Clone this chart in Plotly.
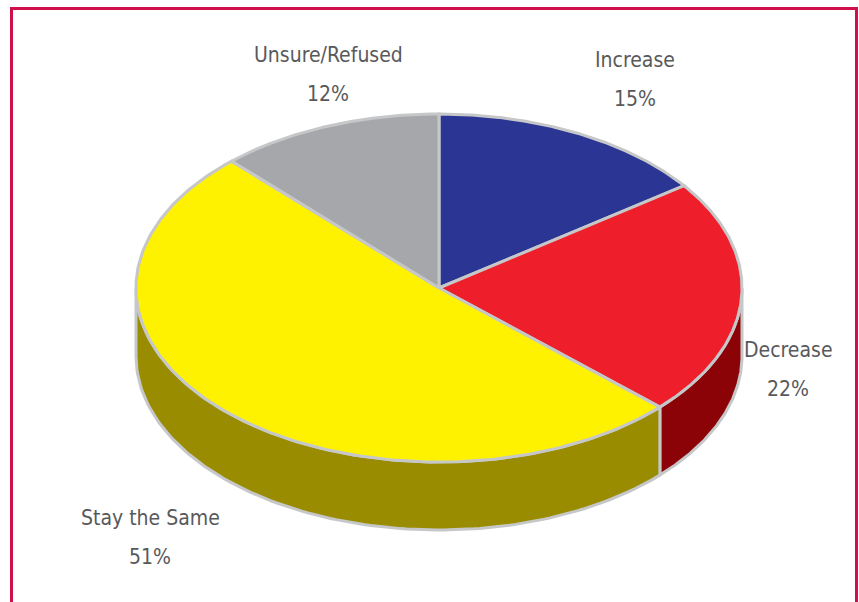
import numpy as np
import plotly.graph_objects as go

# ---- data ----
labels = ["Increase", "Decrease", "Stay the Same", "Unsure/Refused"]
values = [15, 22, 51, 12]
top_colors = ["#2B3594", "#EE1F2B", "#FFF200", "#A6A7AA"]
side_colors = ["#1A2060", "#8B0306", "#9A8C00", "#6E6F72"]

# ---- geometry (pixel space of the window) ----
W, H = 859, 602
cx, cy = 439, 288
rx, ry = 303, 174
depth = 68
edge = "#C6C7C9"

fig = go.Figure()

total = float(sum(values))
starts = np.cumsum([0] + values[:-1]) / total * 360.0
ends = np.cumsum(values) / total * 360.0


def pt(t, dy=0.0):
    r = np.radians(t)
    return cx + rx * np.sin(r), cy - ry * np.cos(r) + dy


# sides (visible front half: 90..270 deg clockwise from top)
for a1, a2, sc in zip(starts, ends, side_colors):
    lo, hi = max(a1, 90.0), min(a2, 270.0)
    if hi <= lo:
        continue
    ts = np.linspace(lo, hi, 120)
    xt, yt = pt(ts)
    xb, yb = pt(ts[::-1], depth)
    xs = np.concatenate([xt, xb, xt[:1]])
    ys = np.concatenate([yt, yb, yt[:1]])
    fig.add_trace(go.Scatter(x=xs, y=ys, mode="lines", fill="toself",
                             fillcolor=sc, line=dict(color=edge, width=3),
                             hoverinfo="skip", showlegend=False))

# top face slices
for a1, a2, tc in zip(starts, ends, top_colors):
    ts = np.linspace(a1, a2, 200)
    xa, ya = pt(ts)
    xs = np.concatenate([[cx], xa, [cx]])
    ys = np.concatenate([[cy], ya, [cy]])
    fig.add_trace(go.Scatter(x=xs, y=ys, mode="lines", fill="toself",
                             fillcolor=tc, line=dict(color=edge, width=3),
                             hoverinfo="skip", showlegend=False))

# labels
label_pos = [(635, 60), (788, 350), (150, 518), (328, 55)]
font = dict(family="DejaVu Sans Condensed, Liberation Sans Narrow, sans-serif",
            size=21, color="#58595B")
for name, v, (lx, ly) in zip(labels, values, label_pos):
    fig.add_annotation(x=lx, y=ly, text=name, showarrow=False, font=font,
                       xanchor="center", yanchor="middle")
    fig.add_annotation(x=lx, y=ly + 39, text=f"{v}%", showarrow=False, font=font,
                       xanchor="center", yanchor="middle")

# frame
fig.add_shape(type="rect", x0=11.5, y0=8.5, x1=856.5, y1=640,
              line=dict(color="#D0104C", width=3), fillcolor="rgba(0,0,0,0)")

fig.update_layout(
    width=W, height=H, margin=dict(l=0, r=0, t=0, b=0),
    paper_bgcolor="white", plot_bgcolor="white",
    xaxis=dict(range=[0, W], visible=False, fixedrange=True),
    yaxis=dict(range=[H, 0], visible=False, fixedrange=True),
)

fig.write_html("out.html",
               config={"displayModeBar": False},
               post_script="document.body.style.margin='0';"
                           "document.body.style.overflow='hidden';")
